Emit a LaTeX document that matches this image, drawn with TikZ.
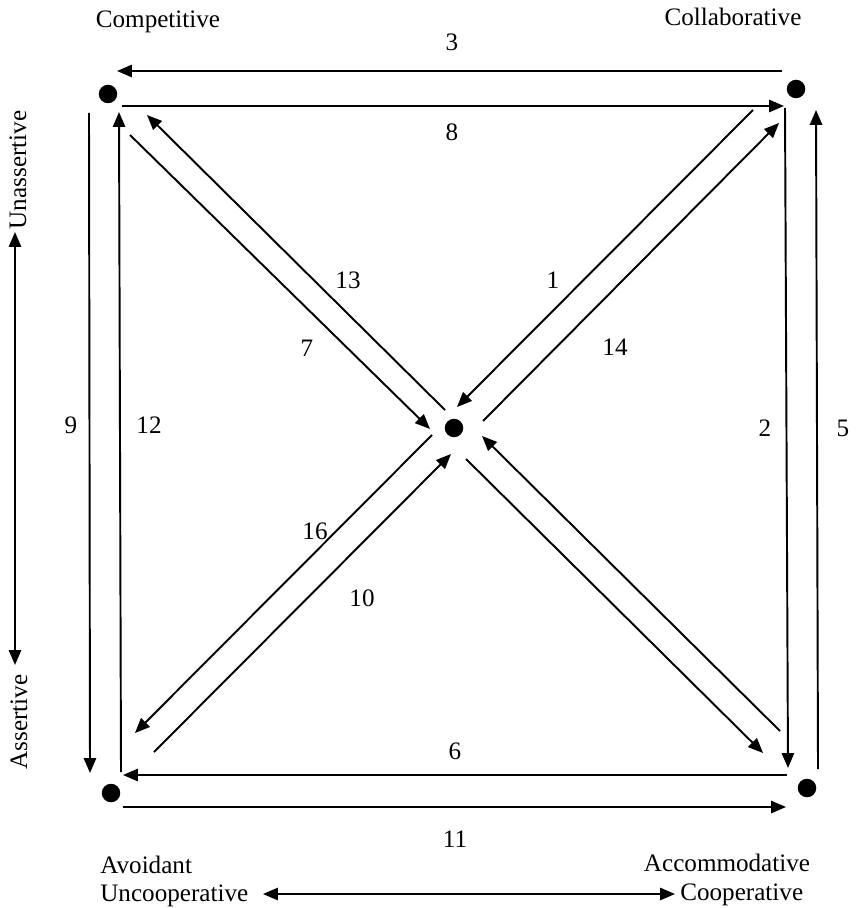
\documentclass[tikz,border=0pt]{standalone}
\usepackage{fontspec}
\setmainfont{Liberation Serif}
\usetikzlibrary{arrows.meta}

\begin{document}
\begin{tikzpicture}[x=0.02cm, y=-0.02cm,
    dot/.style={circle, fill=black, inner sep=0pt, minimum size=0.37cm},
    lab/.style={font=\fontsize{14.3}{17}\selectfont, inner sep=0pt},
    arr/.style={-{Triangle[length=8.5pt, width=7pt]}, line width=1.1pt},
    twoway/.style={{Triangle[length=8.5pt, width=7pt]}-{Triangle[length=8.5pt, width=7pt]}, line width=1.1pt}]
  \useasboundingbox (0,0) rectangle (856,908);

  % the five styles
  \node[dot] (comp) at (108,94) {};
  \node[dot] (coll) at (796,89) {};
  \node[dot] (mid) at (454,428) {};
  \node[dot] (avoid) at (111,793) {};
  \node[dot] (accom) at (807,788) {};

  \node[lab, anchor=base] (tcomp) at (158,28) {Competitive};
  \node[lab, anchor=base] (tcoll) at (733,26) {Collaborative};
  \node[lab, anchor=base west] (tavoid) at (100,873) {Avoidant};
  \node[lab, anchor=base west] (tuncoop) at (100,901) {Uncooperative};
  \node[lab, anchor=base] (taccom) at (727,871) {Accommodative};
  \node[lab, anchor=base west] (tcoop) at (680,900) {Cooperative};
  \node[lab, rotate=90] (tunass) at (18,170) {Unassertive};
  \node[lab, rotate=90] (tass) at (19,722) {Assertive};

  % axes
  \coordinate (ax1) at (15,232);
  \coordinate (ax2) at (15,665);
  \draw[twoway] (ax1) -- (ax2);
  \coordinate (bx1) at (263,894);
  \coordinate (bx2) at (675,894);
  \draw[twoway] (bx1) -- (bx2);

  % sides of the square
  \coordinate (s3) at (782,71);   \coordinate (e3) at (117,71);
  \coordinate (s8) at (122,106);  \coordinate (e8) at (784,106);
  \coordinate (s9) at (89,113);   \coordinate (e9) at (90,773);
  \coordinate (s12) at (121,772); \coordinate (e12) at (119,112);
  \coordinate (s2) at (785,108);  \coordinate (e2) at (788,768);
  \coordinate (s5) at (818,769);  \coordinate (e5) at (816,110);
  \coordinate (s6) at (787,775);  \coordinate (e6) at (123,775);
  \coordinate (s11) at (123,807); \coordinate (e11) at (786,807);
  \draw[arr] (s3) -- (e3);
  \draw[arr] (s8) -- (e8);
  \draw[arr] (s9) -- (e9);
  \draw[arr] (s12) -- (e12);
  \draw[arr] (s2) -- (e2);
  \draw[arr] (s5) -- (e5);
  \draw[arr] (s6) -- (e6);
  \draw[arr] (s11) -- (e11);

  % diagonals
  \coordinate (s7) at (130,135);  \coordinate (e7) at (430,429);
  \coordinate (s13) at (445,410); \coordinate (e13) at (147,115);
  \coordinate (s1) at (753,110);  \coordinate (e1) at (457,407);
  \coordinate (s14) at (483,421); \coordinate (e14) at (779,123);
  \coordinate (s16) at (432,435); \coordinate (e16) at (135,733);
  \coordinate (s10) at (154,752); \coordinate (e10) at (451,454);
  \coordinate (sa) at (466,459);  \coordinate (ea) at (763,753);
  \coordinate (sb) at (780,731);  \coordinate (eb) at (482,436);
  \draw[arr] (s7) -- (e7);
  \draw[arr] (s13) -- (e13);
  \draw[arr] (s1) -- (e1);
  \draw[arr] (s14) -- (e14);
  \draw[arr] (s16) -- (e16);
  \draw[arr] (s10) -- (e10);
  \draw[arr] (sa) -- (ea);
  \draw[arr] (sb) -- (eb);

  \node[lab] (l3) at (452,42) {3};
  \node[lab] (l8) at (452,132) {8};
  \node[lab] (l9) at (71,425) {9};
  \node[lab] (l12) at (149,425) {12};
  \node[lab] (l2) at (765,428) {2};
  \node[lab] (l5) at (843,428) {5};
  \node[lab] (l6) at (455,751) {6};
  \node[lab] (l11) at (455,839) {11};
  \node[lab] (l13) at (348,280) {13};
  \node[lab] (l1) at (553,280) {1};
  \node[lab] (l7) at (307,348) {7};
  \node[lab] (l14) at (615,347) {14};
  \node[lab] (l16) at (315,531) {16};
  \node[lab] (l10) at (362,598) {10};
\end{tikzpicture}
\end{document}
